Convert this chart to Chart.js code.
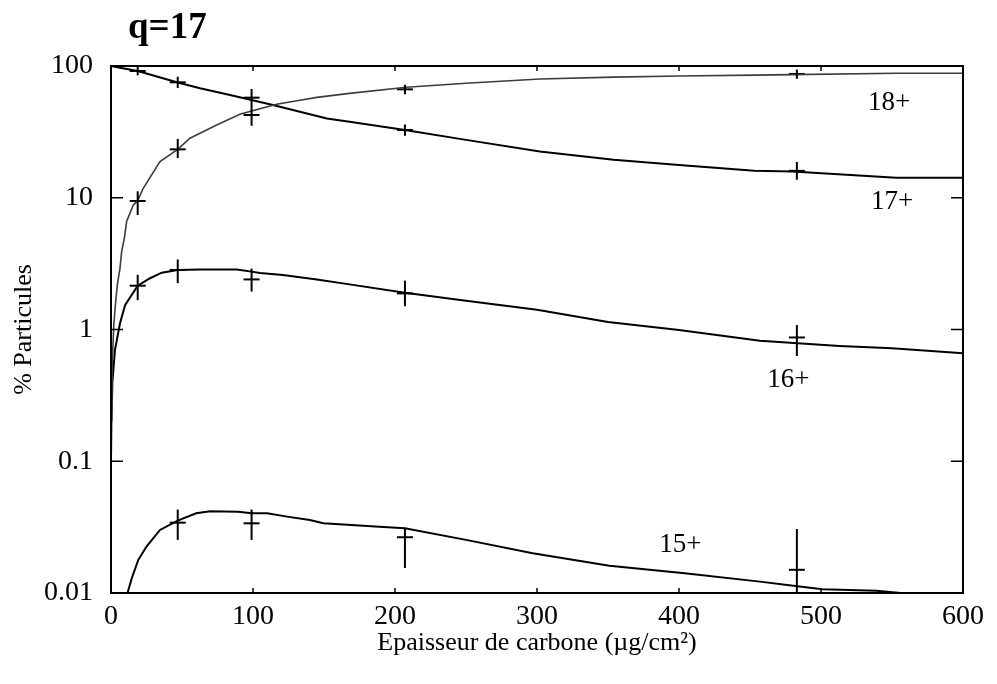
<!DOCTYPE html>
<html>
<head>
<meta charset="utf-8">
<script src="https://cdn.jsdelivr.net/npm/chart.js@4"></script>
<style>
body { margin: 0; background: #fff; }
canvas { display: block; }
</style>
</head>
<body>
<canvas id="chargeChart" width="997" height="684"></canvas>
<script>
// courbes calculees
const x18 = [0.2, 1, 2, 3, 4.5, 6.3, 7.5, 9.5, 11, 15.7, 18.8, 22.7, 34.5, 47, 55.6, 74.4, 90.8, 99, 116.7, 133, 145, 168, 208, 250, 302, 354, 400, 453, 480, 553, 600];
const y18 = [0.11, 0.6, 1.1, 1.5, 2.2, 2.9, 3.9, 5, 6.6, 8.8, 9.5, 11.8, 18.8, 23.3, 28.3, 35.6, 43, 45.5, 51.2, 55, 57.8, 62, 68.9, 74, 79.7, 82.4, 84, 85.2, 86, 88, 88];

const x17 = [0, 6.3, 18.8, 47, 62.7, 81.5, 99, 114, 133, 152, 168, 207, 250, 302, 354, 400, 453, 480, 553, 600];
const y17 = [100, 97, 91.6, 75, 67.7, 61, 55.2, 50.6, 45, 40, 37.8, 32.7, 27.5, 22.4, 19.4, 17.7, 16, 15.8, 14.2, 14.2];

const x16 = [0.3, 1, 2.8, 6.3, 9.9, 18.8, 27.5, 35.7, 47, 62.7, 88.5, 99, 105, 121, 145, 168, 207, 250, 300, 350, 400, 457, 513, 550, 600];
const y16 = [0.2, 0.4, 0.7, 1.11, 1.53, 2.15, 2.45, 2.7, 2.83, 2.85, 2.85, 2.75, 2.68, 2.59, 2.4, 2.2, 1.9, 1.65, 1.41, 1.14, 0.99, 0.82, 0.75, 0.72, 0.66];

const x15 = [11, 12.2, 14.6, 19.2, 25, 34.5, 47, 60, 70, 89.6, 99, 110, 124, 140, 149.5, 189, 207, 250, 297, 351, 404, 457, 482, 501, 539, 560];
const y15 = [0.0095, 0.0105, 0.0129, 0.0178, 0.0225, 0.0301, 0.0354, 0.0403, 0.0417, 0.0414, 0.0403, 0.0403, 0.038, 0.0358, 0.0338, 0.0318, 0.031, 0.0253, 0.02, 0.0161, 0.0141, 0.0122, 0.0113, 0.0107, 0.0104, 0.0099];

// mesures avec barres d'erreur
const measX = [18.8, 47, 99, 207, 483];
const m18 = [9.45, 23.3, 42.5, 66.5, 87];
const m18lo = [7.4, 20, 35.2, 61, 80];
const m18hi = [11.2, 28, 49.7, 72, 94];
const m17 = [91.6, 75.2, 57.5, 32.7, 16];
const m17lo = [85, 68, 49.7, 29.5, 13.7];
const m17hi = [99, 83, 66.9, 36, 18.7];
const m16 = [2.15, 2.83, 2.4, 1.88, 0.87];
const m16lo = [1.67, 2.25, 1.94, 1.5, 0.63];
const m16hi = [2.6, 3.4, 2.9, 2.35, 1.08];
const m15 = [null, 0.0342, 0.0338, 0.0265, 0.015];
const m15lo = [null, 0.0253, 0.0253, 0.0155, 0.009];
const m15hi = [null, 0.043, 0.043, 0.031, 0.0306];

const yTicks = [0.01, 0.1, 1, 10, 100];
const xTicks = [0, 100, 200, 300, 400, 500, 600];

const curveLabels = ['18+', '17+', '16+', '15+'];
const labelX = [548, 550, 477, 401];
const labelY = [52.4, 9.3, 0.414, 0.0231];

const serif = "'Liberation Serif', 'Times New Roman', serif";

function pts(xs, ys) {
    const out = [];
    for (let i = 0; i < xs.length; i++) {
        if (ys[i] !== null) out.push({x: xs[i], y: ys[i]});
    }
    return out;
}

function curve(label, xs, ys, color, width) {
    return {
        label: label,
        data: pts(xs, ys),
        showLine: true,
        borderColor: color,
        borderWidth: width,
        pointRadius: 0,
        tension: 0,
        fill: false
    };
}

function mesure(label, ys, lo, hi) {
    return {
        label: label,
        data: pts(measX, ys),
        lo: lo,
        hi: hi,
        showLine: false,
        pointStyle: 'line',
        pointRadius: 8,
        pointBorderWidth: 2,
        borderColor: '#000',
        backgroundColor: '#000'
    };
}

// barres verticales, cadre, ticks vers l'interieur, textes
const gnuplotLook = {
    id: 'gnuplotLook',
    afterDatasetsDraw(chart) {
        const ctx = chart.ctx;
        const xs = chart.scales.x;
        const ys = chart.scales.y;
        const a = chart.chartArea;

        ctx.save();
        ctx.beginPath();
        ctx.rect(a.left, a.top, a.right - a.left, a.bottom - a.top);
        ctx.clip();
        ctx.strokeStyle = '#000';
        ctx.lineWidth = 2;
        chart.data.datasets.forEach(ds => {
            if (!ds.lo) return;
            for (let i = 0; i < measX.length; i++) {
                if (ds.lo[i] === null) continue;
                const px = xs.getPixelForValue(measX[i]);
                ctx.beginPath();
                ctx.moveTo(px, ys.getPixelForValue(ds.lo[i]));
                ctx.lineTo(px, ys.getPixelForValue(ds.hi[i]));
                ctx.stroke();
            }
        });
        ctx.restore();

        ctx.save();
        ctx.strokeStyle = '#000';
        ctx.lineWidth = 2;
        ctx.strokeRect(a.left, a.top, a.right - a.left, a.bottom - a.top);
        ctx.lineWidth = 1.5;
        ctx.beginPath();
        yTicks.forEach(v => {
            const py = ys.getPixelForValue(v);
            ctx.moveTo(a.left, py); ctx.lineTo(a.left + 12, py);
            ctx.moveTo(a.right, py); ctx.lineTo(a.right - 12, py);
        });
        xTicks.forEach(v => {
            const px = xs.getPixelForValue(v);
            ctx.moveTo(px, a.bottom); ctx.lineTo(px, a.bottom - 5);
            ctx.moveTo(px, a.top); ctx.lineTo(px, a.top + 5);
        });
        ctx.stroke();

        ctx.fillStyle = '#000';
        ctx.font = '27px ' + serif;
        ctx.textAlign = 'center';
        ctx.textBaseline = 'middle';
        for (let i = 0; i < curveLabels.length; i++) {
            ctx.fillText(curveLabels[i], xs.getPixelForValue(labelX[i]), ys.getPixelForValue(labelY[i]));
        }

        ctx.font = 'bold 37px ' + serif;
        ctx.textAlign = 'left';
        ctx.fillText('q=17', 128, 28);
        ctx.restore();
    }
};

const ctxCharge = document.getElementById('chargeChart');

const chargeChart = new Chart(ctxCharge, {
    type: 'scatter',
    data: {
        datasets: [
            curve('18+', x18, y18, '#3c3c3c', 1.6),
            curve('17+', x17, y17, '#000', 2),
            curve('16+', x16, y16, '#000', 2),
            curve('15+', x15, y15, '#000', 2),
            mesure('18+ exp', m18, m18lo, m18hi),
            mesure('17+ exp', m17, m17lo, m17hi),
            mesure('16+ exp', m16, m16lo, m16hi),
            mesure('15+ exp', m15, m15lo, m15hi)
        ]
    },
    options: {
        responsive: false,
        animation: false,
        devicePixelRatio: 1,
        layout: {
            padding: {top: 66, right: 34, bottom: 0, left: 0}
        },
        plugins: {
            legend: {display: false},
            tooltip: {enabled: false}
        },
        scales: {
            x: {
                type: 'linear',
                min: 0,
                max: 600,
                afterFit: scale => { scale.height = 91; },
                afterBuildTicks: scale => { scale.ticks = xTicks.map(v => ({value: v})); },
                grid: {display: false, drawTicks: false},
                border: {display: false},
                ticks: {
                    color: '#000',
                    padding: 7,
                    maxRotation: 0,
                    font: {family: serif, size: 28}
                },
                title: {
                    display: true,
                    text: 'Epaisseur de carbone (µg/cm²)',
                    color: '#000',
                    font: {family: serif, size: 26},
                    padding: {top: 0, bottom: 25}
                }
            },
            y: {
                type: 'logarithmic',
                min: 0.01,
                max: 100,
                afterFit: scale => { scale.width = 111; },
                afterBuildTicks: scale => { scale.ticks = yTicks.map(v => ({value: v})); },
                grid: {display: false, drawTicks: false},
                border: {display: false},
                ticks: {
                    color: '#000',
                    padding: 18,
                    font: {family: serif, size: 28},
                    callback: v => String(v)
                },
                title: {
                    display: true,
                    text: '% Particules',
                    color: '#000',
                    font: {family: serif, size: 26},
                    padding: {top: 9, bottom: 0}
                }
            }
        }
    },
    plugins: [gnuplotLook]
});
</script>
</body>
</html>
